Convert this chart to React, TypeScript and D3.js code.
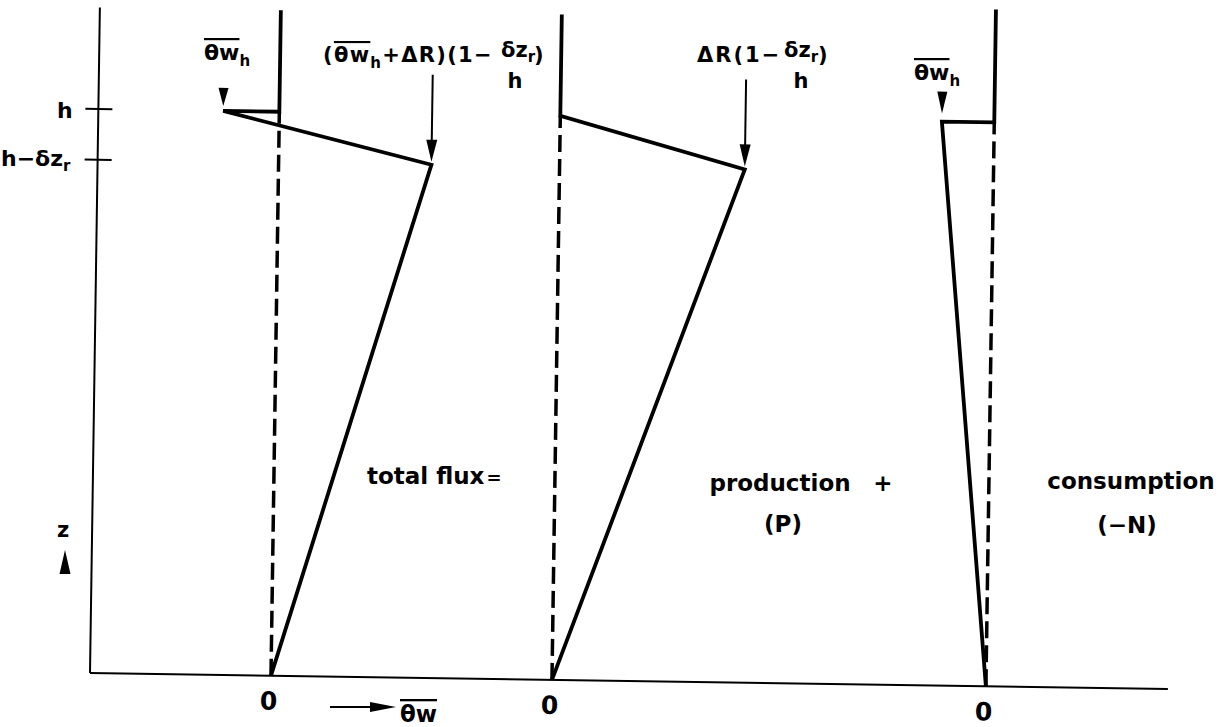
import React from "react";
import * as d3 from "d3";

// flux profiles: z in units of h, flux in units of |θw_h|
const panelNames = ["total flux", "production", "consumption"];
const profileZ = [
  [1.18, 1, 1, 0.91, 0],
  [1.18, 1, 0.91, 0],
  [1.2, 1, 1, 0],
];
const profileFlux = [
  [0, 0, -1.04, 2.83, 0],
  [0, 0, 3.43, 0],
  [0, 0, -0.97, 0],
];
const zTicks = [1, 0.91];
const zeroLabels = ["0", "0", "0"];
const zAxisTop = 1.18;

// pointer arrows onto profile corners
const pointerPanel = [0, 0, 1, 2];
const pointerZ = [1, 0.91, 0.91, 1];
const pointerFlux = [-1.04, 2.83, 3.43, -0.97];

const width = 1228;
const height = 727;
const originX = 90;
const originY = 673;
const tilt = 0.85; // the scan is a little skewed
const panelX = [181, 462, 896];
const axisLength = 1078;
const font = "'DejaVu Sans', sans-serif";

const z = d3.scaleLinear().domain([0, 1]).range([0, -564]);
const f = d3.scaleLinear().domain([0, 1]).range([0, 54]);

const profileLine = d3
  .line<[number, number]>()
  .x((d) => d[0])
  .y((d) => d[1]);

const Pointer = ({ i }: { i: number }) => {
  const x = panelX[pointerPanel[i]] + f(pointerFlux[i]);
  const y = z(pointerZ[i]);
  const withStem = pointerPanel[i] !== 2 && !(pointerPanel[i] === 0 && pointerZ[i] === 1);
  if (!withStem) {
    const tipY = y - (pointerPanel[i] === 2 ? 8 : 5);
    const h = pointerPanel[i] === 2 ? 22 : 18;
    return (
      <path
        d={`M${x - 5},${tipY - h}L${x + 5},${tipY - h}L${x},${tipY}Z`}
        fill="#000"
      />
    );
  }
  const tipY = y - 3;
  return (
    <g>
      <line x1={x} x2={x} y1={tipY - 87} y2={tipY - 18} stroke="#000" strokeWidth={2} />
      <path d={`M${x - 5.5},${tipY - 22}L${x + 5.5},${tipY - 22}L${x},${tipY}Z`} fill="#000" />
    </g>
  );
};

export default function App() {
  return (
    <svg
      width={width}
      height={height}
      style={{ position: "absolute", left: 0, top: 0, background: "#fff" }}
      fontFamily={font}
      fontWeight={700}
    >
      <g transform={`translate(${originX},${originY}) rotate(${tilt})`}>
        {/* axes */}
        <line x1={0} x2={0} y1={0} y2={z(zAxisTop)} stroke="#000" strokeWidth={2} />
        <line x1={0} x2={axisLength} y1={0} y2={0} stroke="#000" strokeWidth={2} />
        {zTicks.map((t, i) => (
          <line key={i} x1={-13} x2={14} y1={z(t)} y2={z(t)} stroke="#000" strokeWidth={2} />
        ))}

        {panelNames.map((name, p) => (
          <g key={name}>
            <line
              x1={panelX[p]}
              x2={panelX[p]}
              y1={0}
              y2={z(1)}
              stroke="#000"
              strokeWidth={3.5}
              strokeDasharray="17 7"
            />
            <path
              d={
                profileLine(
                  profileZ[p].map((zz, k) => [panelX[p] + f(profileFlux[p][k]), z(zz)])
                ) || ""
              }
              fill="none"
              stroke="#000"
              strokeWidth={3.8}
              strokeLinejoin="miter"
            />
            <text x={panelX[p] - 2} y={34} textAnchor="middle" fontSize={25}>
              {zeroLabels[p]}
            </text>
          </g>
        ))}

        {pointerPanel.map((_, i) => (
          <Pointer key={i} i={i} />
        ))}
      </g>

      {/* left axis labels */}
      <text x={57} y={118} fontSize={22}>h</text>
      <text x={1} y={166} fontSize={22}>
        h−δz<tspan fontSize={15} dy={5}>r</tspan>
      </text>
      <text x={57} y={537} fontSize={21}>z</text>
      <path d="M65,550L70.5,574L59.5,574Z" fill="#000" />

      {/* flux axis label */}
      <line x1={330} x2={372} y1={707} y2={707} stroke="#000" strokeWidth={2} />
      <path d="M396,707L370,702L370,712Z" fill="#000" />
      <text x={400} y={722} fontSize={23}>
        <tspan textDecoration="overline">θw</tspan>
      </text>

      {/* panel 1 annotations */}
      <text x={204} y={60} fontSize={22}>
        <tspan textDecoration="overline">θw</tspan>
        <tspan fontSize={15} dy={6}>h</tspan>
      </text>
      <text x={323} y={62} fontSize={21} letterSpacing={1.3}>
        (<tspan textDecoration="overline">θw</tspan>
        <tspan fontSize={15} dy={6}>h</tspan>
        <tspan dy={-6}>+ΔR)(1−</tspan>
      </text>
      <text x={518} y={57} fontSize={21} textAnchor="middle">
        δz<tspan fontSize={15} dy={5}>r</tspan>
      </text>
      <text x={515} y={88} fontSize={21} textAnchor="middle">h</text>
      <text x={534} y={62} fontSize={21}>)</text>

      {/* panel 2 annotations */}
      <text x={697} y={62} fontSize={21} letterSpacing={2}>ΔR(1−</text>
      <text x={801} y={57} fontSize={21} textAnchor="middle">
        δz<tspan fontSize={15} dy={5}>r</tspan>
      </text>
      <text x={801} y={88} fontSize={21} textAnchor="middle">h</text>
      <text x={818} y={62} fontSize={21}>)</text>

      {/* panel 3 annotations */}
      <text x={914} y={80} fontSize={22}>
        <tspan textDecoration="overline">θw</tspan>
        <tspan fontSize={15} dy={6}>h</tspan>
      </text>

      {/* panel titles */}
      <text x={367} y={484} fontSize={23}>
        total flux<tspan fontSize={18} dx={2}>=</tspan>
      </text>
      <text x={780} y={491} fontSize={23} textAnchor="middle">production</text>
      <text x={883} y={491} fontSize={23} textAnchor="middle">+</text>
      <text x={783} y={532} fontSize={23} textAnchor="middle">(P)</text>
      <text x={1131} y={489} fontSize={23} textAnchor="middle">consumption</text>
      <text x={1127} y={533} fontSize={23} textAnchor="middle">(−N)</text>
    </svg>
  );
}
